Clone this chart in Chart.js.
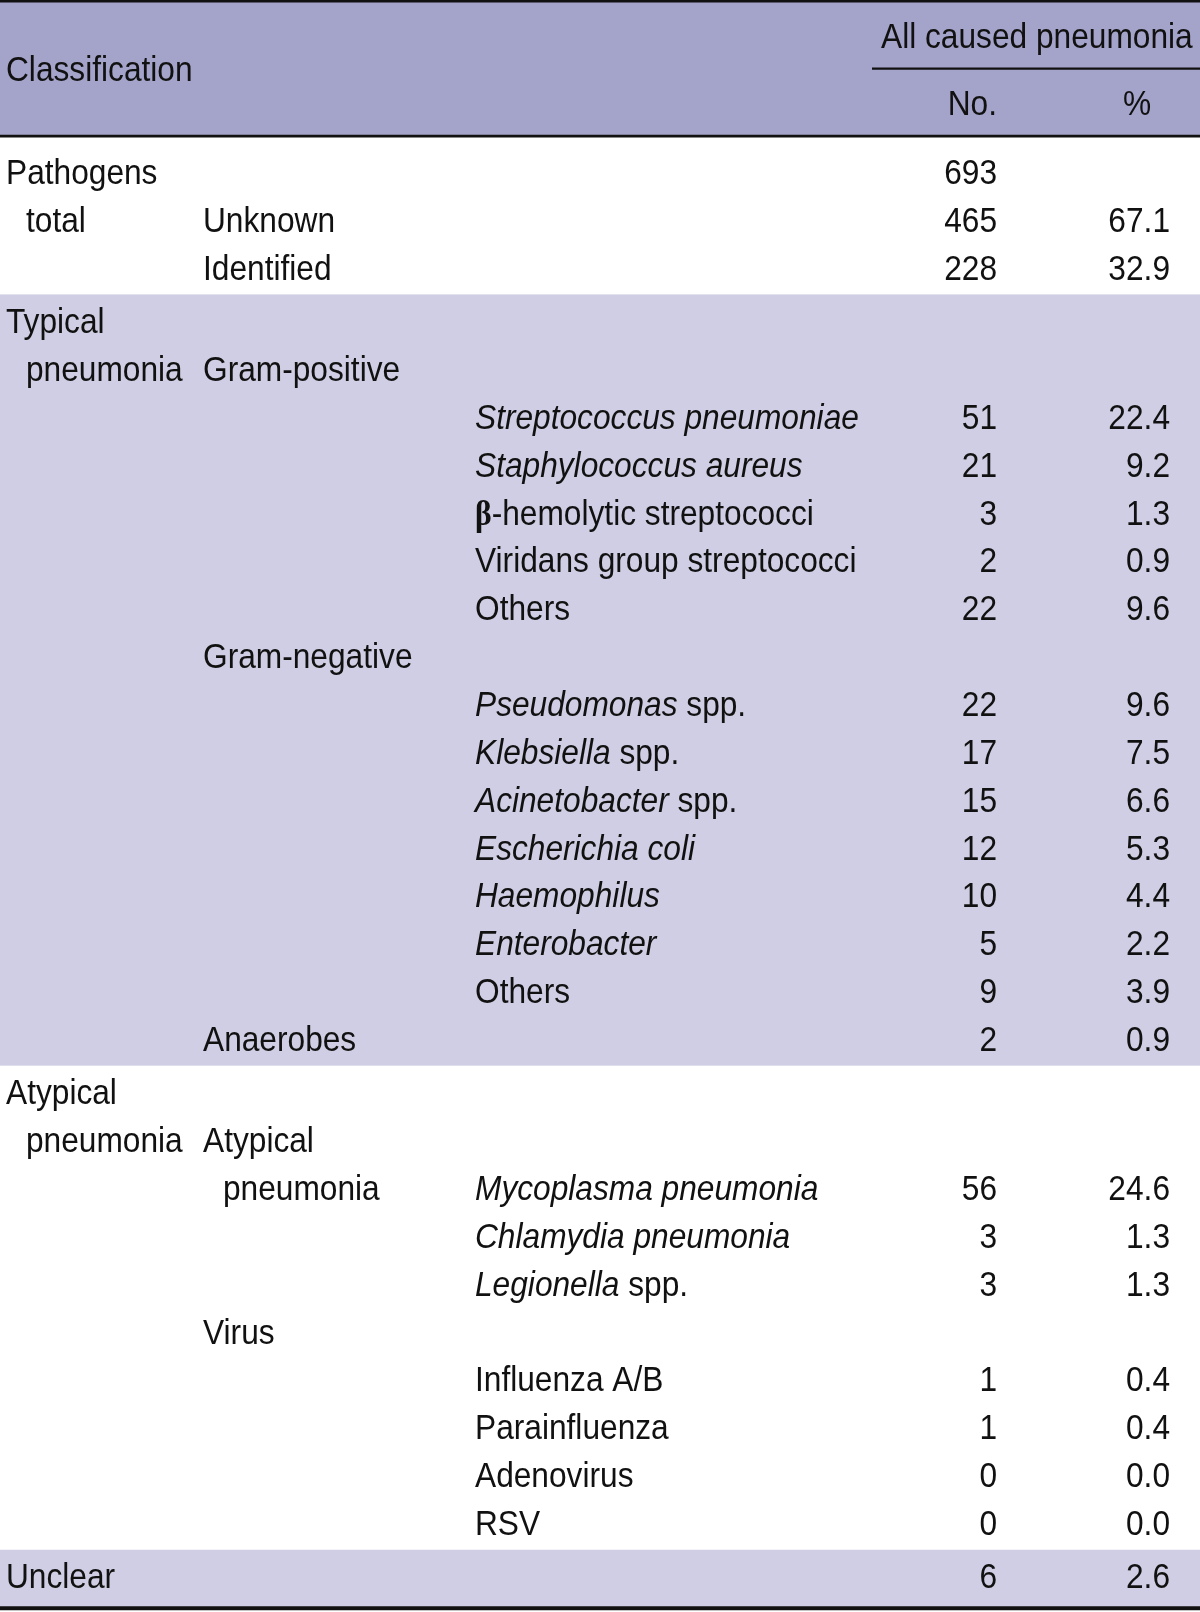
<!DOCTYPE html>
<html>
<head>
<meta charset="utf-8">
<script src="https://cdn.jsdelivr.net/npm/chart.js@4.4.1/dist/chart.umd.min.js"></script>
<style>
  html, body { margin: 0; padding: 0; background: #fff; }
  #wrap { width: 1200px; height: 1612px; position: relative; }
</style>
</head>
<body>
<div id="wrap"><canvas id="pneumoniaTable"></canvas></div>
<script>
// table content, one entry per row (30 rows)
const level1 = ['Pathogens', 'total', '', 'Typical', 'pneumonia', '', '', '', '', '', '', '', '', '', '', '', '', '', '',
  'Atypical', 'pneumonia', '', '', '', '', '', '', '', '', 'Unclear'];
const level2 = ['', 'Unknown', 'Identified', '', 'Gram-positive', '', '', '', '', '', 'Gram-negative', '', '', '', '', '', '', '', 'Anaerobes',
  '', 'Atypical', 'pneumonia', '', '', 'Virus', '', '', '', '', ''];
// *...* = italic
const pathogens = ['', '', '', '', '', '*Streptococcus pneumoniae*', '*Staphylococcus aureus*', 'β-hemolytic streptococci',
  'Viridans group streptococci', 'Others', '', '*Pseudomonas* spp.', '*Klebsiella* spp.', '*Acinetobacter* spp.',
  '*Escherichia coli*', '*Haemophilus*', '*Enterobacter*', 'Others', '',
  '', '', '*Mycoplasma pneumonia*', '*Chlamydia pneumonia*', '*Legionella* spp.', '', 'Influenza A/B', 'Parainfluenza',
  'Adenovirus', 'RSV', ''];
const counts = [693, 465, 228, null, null, 51, 21, 3, 2, 22, null, 22, 17, 15, 12, 10, 5, 9, 2,
  null, null, 56, 3, 3, null, 1, 1, 0, 0, 6];
const percents = [null, 67.1, 32.9, null, null, 22.4, 9.2, 1.3, 0.9, 9.6, null, 9.6, 7.5, 6.6, 5.3, 4.4, 2.2, 3.9, 0.9,
  null, null, 24.6, 1.3, 1.3, null, 0.4, 0.4, 0.0, 0.0, 2.6];
// wrapped second lines are indented
const wrapped1 = [1, 4, 20];
const wrapped2 = [21];
const sectionStart = [0, 3, 19, 29];
const shadedSections = [1, 3];
const headerTitle = 'Classification';
const spanTitle = 'All caused pneumonia';
const subTitles = ['No.', '%'];

// layout
const GAP = 0.115;           // extra space between sections (row units)
const COL = { l1: 6, l2: 203, l3: 475, no: 997, pct: 1170, pctHead: 1137, span: 881, spanRuleFrom: 872, indent: 20 };
const HEAD = { span: -2.6, spanRule: -2.16, title: -1.91, sub: -1.19, rule: -0.75, bottomRule: 30.01 };
const BASE_OFF = 12;         // px from row centre to baseline
const FONT = "'Liberation Sans', Arial, sans-serif";
const SIZE = 35;
const SX = 0.905;            // narrow the face a little
const HEADER_BG = '#a4a3ca';
const BAND_BG = '#cfcee4';
const INK = '#111';

const sectionOf = i => sectionStart.reduce((s, st, k) => (i >= st ? k : s), 0);
const rowPos = level1.map((_, i) => i + GAP * sectionOf(i));

function put(ctx, str, x, y, align, font) {
  ctx.save();
  ctx.font = font || `${SIZE}px ${FONT}`;
  ctx.textAlign = align;
  ctx.translate(x, y);
  ctx.scale(SX, 1);
  ctx.fillText(str, 0, 0);
  const w = ctx.measureText(str).width * SX;
  ctx.restore();
  return w;
}

function drawRich(ctx, text, x, y) {
  let cx = x;
  text.split('*').forEach((part, k) => {
    if (!part) return;
    const italic = k % 2 === 1;
    for (const seg of part.split(/(β)/)) {
      if (!seg) continue;
      const font = seg === 'β' ? `bold ${SIZE}px 'Liberation Serif', serif`
        : `${italic ? 'italic ' : ''}${SIZE}px ${FONT}`;
      cx += put(ctx, seg, cx, y, 'left', font);
    }
  });
}

const tablePlugin = {
  id: 'tableDraw',
  beforeDatasetsDraw(chart) {
    const { ctx, chartArea, scales: { x, y } } = chart;
    const left = chartArea.left, right = chartArea.right;
    const half = 0.5 + GAP / 2;
    ctx.save();

    // header background
    ctx.fillStyle = HEADER_BG;
    ctx.fillRect(left, chartArea.top, right - left, y.getPixelForValue(HEAD.rule) - chartArea.top);

    // shaded sections
    ctx.fillStyle = BAND_BG;
    shadedSections.forEach(s => {
      const first = sectionStart[s];
      const last = (s + 1 < sectionStart.length ? sectionStart[s + 1] : level1.length) - 1;
      const top = y.getPixelForValue(rowPos[first] - half);
      const bottom = s === sectionStart.length - 1 ? y.getPixelForValue(HEAD.bottomRule) : y.getPixelForValue(rowPos[last] + half);
      ctx.fillRect(left, top, right - left, bottom - top);
    });

    // rules
    ctx.strokeStyle = INK;
    const rule = (v, w, x0) => {
      const py = v === null ? chartArea.top + w / 2 : y.getPixelForValue(v);
      ctx.lineWidth = w;
      ctx.beginPath();
      ctx.moveTo(x.getPixelForValue(x0), py);
      ctx.lineTo(right, py);
      ctx.stroke();
    };
    rule(null, 2.6, 0);
    rule(HEAD.rule, 2.6, 0);
    rule(HEAD.spanRule, 2.2, COL.spanRuleFrom);
    rule(HEAD.bottomRule, 4, 0);

    // header text
    ctx.fillStyle = INK;
    ctx.textBaseline = 'alphabetic';
    put(ctx, headerTitle, x.getPixelForValue(COL.l1), y.getPixelForValue(HEAD.title), 'left');
    put(ctx, spanTitle, x.getPixelForValue(COL.span), y.getPixelForValue(HEAD.span), 'left');
    put(ctx, subTitles[0], x.getPixelForValue(COL.no), y.getPixelForValue(HEAD.sub), 'right');
    put(ctx, subTitles[1], x.getPixelForValue(COL.pctHead), y.getPixelForValue(HEAD.sub), 'center');

    // body
    level1.forEach((_, i) => {
      const py = y.getPixelForValue(rowPos[i]) + BASE_OFF;
      if (level1[i]) put(ctx, level1[i], x.getPixelForValue(COL.l1 + (wrapped1.includes(i) ? COL.indent : 0)), py, 'left');
      if (level2[i]) put(ctx, level2[i], x.getPixelForValue(COL.l2 + (wrapped2.includes(i) ? COL.indent : 0)), py, 'left');
      if (pathogens[i]) drawRich(ctx, pathogens[i], x.getPixelForValue(COL.l3), py);
      if (counts[i] !== null) put(ctx, String(counts[i]), x.getPixelForValue(COL.no), py, 'right');
      if (percents[i] !== null) put(ctx, percents[i].toFixed(1), x.getPixelForValue(COL.pct), py, 'right');
    });
    ctx.restore();
  }
};

new Chart(document.getElementById('pneumoniaTable'), {
  type: 'scatter',
  data: {
    datasets: [{
      data: counts.map((c, i) => ({ x: COL.no, y: rowPos[i] })),
      pointRadius: 0
    }]
  },
  options: {
    responsive: true,
    maintainAspectRatio: false,
    animation: false,
    events: [],
    layout: { padding: 0 },
    plugins: { legend: { display: false }, tooltip: { enabled: false } },
    scales: {
      x: { type: 'linear', min: 0, max: 1200, display: false },
      y: { type: 'linear', reverse: true, min: -3.594, max: 30.088, display: false }
    }
  },
  plugins: [tablePlugin]
});
</script>
</body>
</html>
